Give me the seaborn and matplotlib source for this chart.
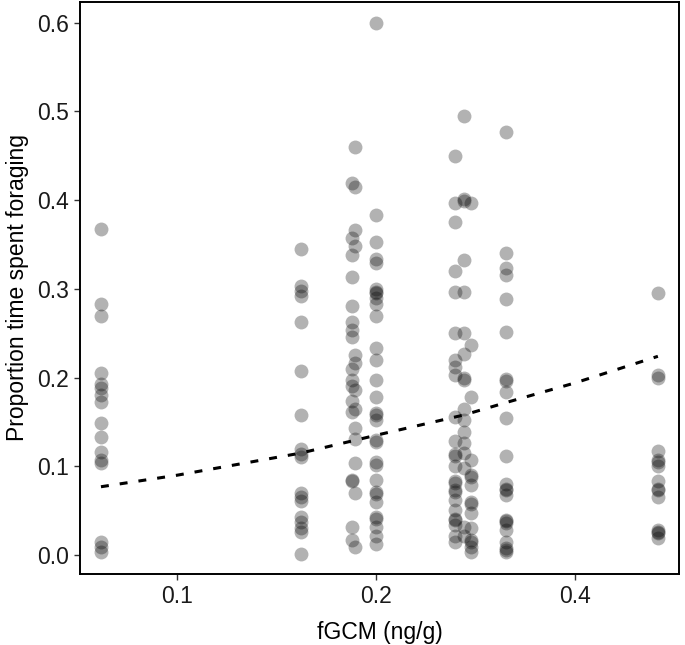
import numpy as np
import pandas as pd
import seaborn as sns
import matplotlib
matplotlib.use("Agg")
import matplotlib.pyplot as plt
from matplotlib.ticker import FixedLocator, NullLocator, FixedFormatter

# fGCM value of each sampled group (x) and proportion of time foraging (y)
col_a = [0.367, 0.283, 0.269, 0.205, 0.193, 0.188, 0.180, 0.172, 0.149, 0.133,
         0.116, 0.107, 0.104, 0.015, 0.009, 0.004]
col_b = [0.345, 0.303, 0.298, 0.292, 0.263, 0.207, 0.158, 0.120, 0.114, 0.111,
         0.070, 0.066, 0.061, 0.043, 0.037, 0.031, 0.026, 0.001]
col_c1 = [0.419, 0.357, 0.338, 0.313, 0.281, 0.263, 0.254, 0.246, 0.210, 0.197,
          0.190, 0.174, 0.161, 0.085, 0.083, 0.032, 0.017]
col_c2 = [0.460, 0.415, 0.366, 0.348, 0.225, 0.217, 0.186, 0.165, 0.143, 0.131,
          0.104, 0.070, 0.009]
col_d = [0.600, 0.383, 0.353, 0.334, 0.329, 0.300, 0.297, 0.295, 0.290, 0.283,
         0.269, 0.233, 0.220, 0.197, 0.178, 0.160, 0.158, 0.152, 0.130, 0.127,
         0.105, 0.102, 0.085, 0.071, 0.069, 0.060, 0.043, 0.041, 0.032, 0.022, 0.013]
col_e1 = [0.450, 0.397, 0.375, 0.320, 0.296, 0.250, 0.220, 0.212, 0.203, 0.156,
          0.128, 0.114, 0.112, 0.100, 0.083, 0.081, 0.073, 0.071, 0.062, 0.051,
          0.041, 0.039, 0.034, 0.021, 0.015]
col_e2 = [0.495, 0.401, 0.399, 0.333, 0.296, 0.250, 0.227, 0.199, 0.197, 0.165,
          0.152, 0.139, 0.126, 0.115, 0.098, 0.032, 0.021]
col_e3 = [0.397, 0.237, 0.178, 0.107, 0.090, 0.088, 0.079, 0.060, 0.058, 0.047,
          0.030, 0.017, 0.015, 0.009, 0.004]
col_f = [0.477, 0.340, 0.323, 0.316, 0.289, 0.251, 0.198, 0.196, 0.184, 0.154,
         0.112, 0.080, 0.075, 0.073, 0.068, 0.040, 0.038, 0.036, 0.028, 0.015,
         0.008, 0.006, 0.003]
col_g = [0.295, 0.203, 0.199, 0.117, 0.107, 0.105, 0.100, 0.083, 0.075, 0.073,
         0.066, 0.028, 0.026, 0.025, 0.019]

fgcm_levels = [0.0767, 0.154, 0.184, 0.186, 0.200, 0.263, 0.272, 0.278, 0.315, 0.534]
columns = [col_a, col_b, col_c1, col_c2, col_d, col_e1, col_e2, col_e3, col_f, col_g]

# fitted curve
fit_x = [0.0767, 0.100, 0.154, 0.200, 0.272, 0.315, 0.400, 0.534]
fit_y = [0.077, 0.090, 0.115, 0.135, 0.158, 0.172, 0.194, 0.224]

xticks = [0.1, 0.2, 0.4]
xtick_labels = ["0.1", "0.2", "0.4"]
yticks = [0.0, 0.1, 0.2, 0.3, 0.4, 0.5, 0.6]

rows = []
for xv, ys in zip(fgcm_levels, columns):
    for yv in ys:
        rows.append((xv, yv))
data = pd.DataFrame(rows, columns=["fgcm", "prop"])
fit = pd.DataFrame({"fgcm": fit_x, "prop": fit_y})

sns.set_theme(style="white")
plt.rcParams["font.family"] = ["Liberation Sans", "DejaVu Sans"]

fig = plt.figure(figsize=(6.85, 6.45), dpi=100)
ax = fig.add_axes([0.1168, 0.110, 0.8744, 0.887])

sns.scatterplot(data=data, x="fgcm", y="prop", ax=ax, color="black",
                alpha=0.3, s=100, linewidth=0, legend=False)
sns.lineplot(data=fit, x="fgcm", y="prop", ax=ax, color="black",
             linewidth=2.2, dashes=False)
ax.lines[-1].set_dashes((2.6, 3.6))

ax.set_xscale("log")
ax.set_xlim(0.0713, 0.5747)
ax.set_ylim(-0.0214, 0.6234)
ax.xaxis.set_major_locator(FixedLocator(xticks))
ax.xaxis.set_major_formatter(FixedFormatter(xtick_labels))
ax.xaxis.set_minor_locator(NullLocator())
ax.set_yticks(yticks)
ax.set_yticklabels([f"{v:.1f}" for v in yticks])

ax.set_xlabel("fGCM (ng/g)", fontsize=16.5, color="black", labelpad=9)
ax.set_ylabel("Proportion time spent foraging", fontsize=16.5, color="black", labelpad=6)
ax.tick_params(axis="both", which="major", direction="out", length=4, width=1,
               color="#333333", labelsize=16.5, labelcolor="#1a1a1a", pad=4,
               bottom=True, left=True)

for sp in ax.spines.values():
    sp.set_visible(True)
    sp.set_color("black")
    sp.set_linewidth(1.4)

fig.savefig("out.png", dpi=100, facecolor="white")
